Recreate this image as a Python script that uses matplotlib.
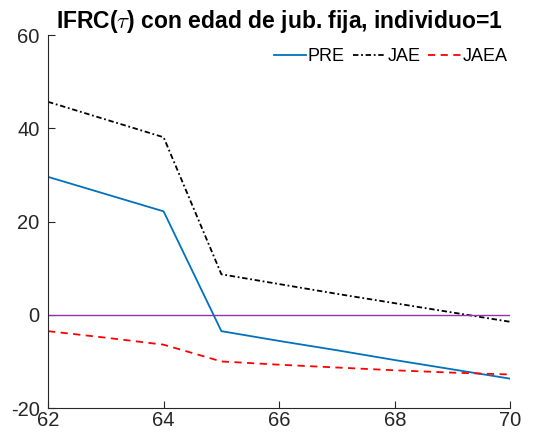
import numpy as np
import matplotlib.pyplot as plt

plt.rcParams['font.family'] = ['Liberation Sans', 'DejaVu Sans']
plt.rcParams['mathtext.fontset'] = 'cm'
plt.rcParams['axes.unicode_minus'] = False

edad = [62, 63, 64, 65, 66, 67, 68, 69, 70]
pre = [29.6, 25.9, 22.2, -3.5, -5.6, -7.6, -9.7, -11.7, -13.7]
jae = [45.7, 41.9, 38.1, 8.7, 6.6, 4.5, 2.5, 0.5, -1.5]
jaea = [-3.5, -4.9, -6.4, -10.0, -10.7, -11.3, -11.9, -12.4, -12.8]

fig = plt.figure(figsize=(5.37, 4.45), dpi=100)
ax = fig.add_axes([0.0894, 0.083, 0.861, 0.838])

ax.plot(edad, pre, color='#0072BD', lw=1.3, label='PRE')
ax.plot(edad, jae, color='black', lw=1.3, linestyle=(0, (3, 1.5, 1, 1.5)), label='JAE')
ax.plot(edad, jaea, color='red', lw=1.3, linestyle=(0, (4, 3)), label='JAEA')
ax.axhline(0, color='#8E35A8', lw=1.0)

ax.set_xlim(62, 70)
ax.set_ylim(-20, 60)
ax.set_xticks([62, 64, 66, 68, 70])
ax.set_yticks([-20, 0, 20, 40, 60])
ax.tick_params(direction='in', labelsize=14.5, length=5, width=0.8, colors='#262626')
ax.tick_params(axis='x', pad=2)
ax.tick_params(axis='y', pad=6)
ax.spines['top'].set_visible(False)
ax.spines['right'].set_visible(False)
for s in ['left', 'bottom']:
    ax.spines[s].set_color('#262626')
    ax.spines[s].set_linewidth(0.8)

ax.set_title(r'IFRC($\tau$) con edad de jub. fija, individuo=1', fontsize=16.5, fontweight='bold', pad=3)
ax.legend(loc='upper right', bbox_to_anchor=(1.01, 0.985), ncol=3, frameon=False, fontsize=13,
          handlelength=1.8, handletextpad=0.1, columnspacing=0.45, borderaxespad=0)

fig.savefig('out.png', dpi=100)
